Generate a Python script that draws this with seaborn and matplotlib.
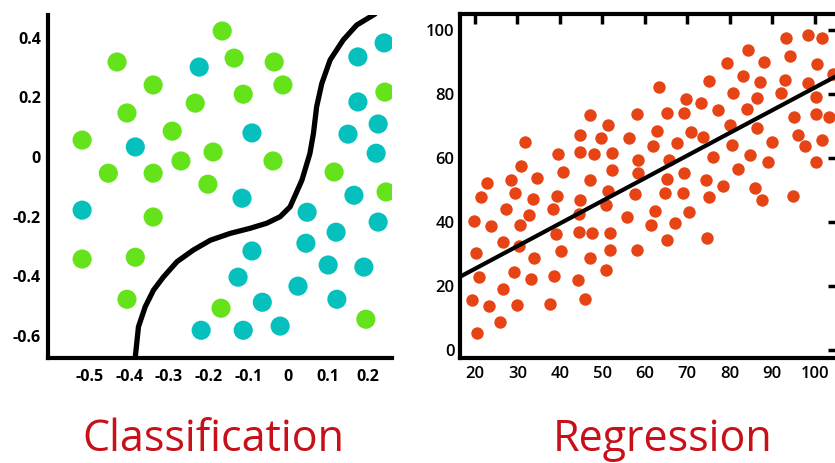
import numpy as np
import pandas as pd
import matplotlib.pyplot as plt
import seaborn as sns

# Classification points (x, y, class)
green_x = [-0.166, -0.431, -0.136, -0.035, -0.340, -0.013, -0.113, -0.234, -0.406, -0.292,
           -0.519, -0.189, -0.270, -0.038, -0.453, -0.340, -0.202, 0.116, 0.244, 0.247,
           -0.340, -0.519, -0.385, -0.406, -0.169, 0.196]
green_y = [0.423, 0.319, 0.332, 0.319, 0.242, 0.242, 0.211, 0.181, 0.148, 0.087,
           0.057, 0.017, -0.013, -0.013, -0.054, -0.054, -0.091, -0.050, 0.218, -0.117,
           -0.201, -0.342, -0.336, -0.477, -0.507, -0.544]
cyan_x = [-0.224, -0.091, -0.385, 0.176, 0.242, 0.176, 0.151, 0.227, 0.222, -0.116, 0.166,
          -0.519, 0.227, 0.048, 0.121, 0.045, -0.091, 0.101, 0.191, -0.126, 0.025,
          -0.065, 0.123, -0.219, -0.113, -0.020]
cyan_y = [0.302, 0.081, 0.034, 0.336, 0.383, 0.185, 0.077, 0.111, 0.013, -0.138, -0.128,
          -0.178, -0.218, -0.185, -0.252, -0.289, -0.315, -0.362, -0.369, -0.403, -0.433,
          -0.487, -0.477, -0.581, -0.581, -0.567]

# decision boundary
boundary_x = [-0.385, -0.377, -0.360, -0.339, -0.314, -0.280, -0.239, -0.196, -0.146, -0.096,
              -0.054, -0.020, 0.005, 0.018, 0.035, 0.055, 0.064, 0.072, 0.085, 0.106,
              0.139, 0.173, 0.219]
boundary_y = [-0.670, -0.569, -0.502, -0.446, -0.402, -0.351, -0.312, -0.279, -0.256, -0.239,
              -0.222, -0.200, -0.167, -0.128, -0.077, 0.012, 0.080, 0.169, 0.247, 0.326,
              0.393, 0.443, 0.480]

cls_xticks = [-0.5, -0.4, -0.3, -0.2, -0.1, 0, 0.1, 0.2]
cls_xlabels = ["-0.5", "-0.4", "-0.3", "-0.2", "-0.1", "0", "0.1", "0.2"]
cls_yticks = [0.4, 0.2, 0, -0.2, -0.4, -0.6]
cls_ylabels = ["0.4", "0.2", "0", "-0.2", "-0.4", "-0.6"]

# Regression points
reg_x = [22.8, 28.5, 30.8, 31.7, 34.6, 39.6, 40.7, 44.8, 44.8, 47.1, 48.1, 47.0, 49.7, 51.3,
         52.3, 52.3, 56.3, 58.1, 58.4, 58.4, 62.0, 62.8, 63.4, 65.2, 65.6, 65.2, 67.5, 69.2,
         69.7, 69.3, 70.9, 73.2, 73.8, 74.4, 75.0, 76.1, 77.3, 79.3, 80.1, 80.7, 80.6, 81.9,
         83.0, 84.4, 84.1, 84.8, 86.4, 86.4, 87.1, 88.1, 89.9, 89.1, 92.0, 93.0, 93.2, 94.2,
         95.1, 96.1, 97.6, 98.3, 98.3, 100.5, 100.2, 100.2, 100.3, 101.6, 101.8, 103.4, 104.4,
         78.4, 86.0, 21.5, 29.5, 33.6, 19.7, 23.8, 27.2, 30.5, 32.8, 39.3, 38.4, 44.8, 44.4,
         51.4, 50.9, 57.6, 55.9, 62.4, 64.8, 68.9, 75.0, 87.7, 95.0, 70.3, 61.5, 67.1, 65.2,
         74.6, 20.3, 26.6, 30.3, 34.0, 39.1, 40.2, 44.4, 47.6, 47.1, 51.8, 51.8, 58.1, 50.9,
         20.9, 29.1, 33.2, 38.7, 44.3, 26.7, 19.4, 23.3, 30.0, 37.6, 46.0, 26.0, 20.6]
reg_y = [52.2, 53.1, 57.4, 65.0, 53.6, 61.2, 55.5, 67.2, 61.9, 73.2, 61.2, 53.1, 66.0, 70.3,
         61.4, 56.0, 66.3, 73.7, 59.3, 55.2, 63.8, 68.4, 82.0, 74.1, 59.3, 53.4, 64.5, 74.1,
         78.3, 55.2, 68.1, 77.0, 66.6, 53.1, 84.0, 60.3, 74.9, 89.5, 70.2, 80.2, 64.0, 56.4,
         85.6, 93.7, 75.3, 60.9, 78.6, 69.2, 83.8, 89.9, 65.0, 58.8, 80.2, 84.3, 97.5, 91.8,
         72.8, 67.1, 63.5, 98.4, 83.3, 89.3, 78.9, 73.6, 58.5, 97.5, 65.6, 72.8, 86.2,
         51.2, 50.5, 47.7, 49.1, 47.2, 40.3, 38.5, 43.9, 39.0, 42.2, 48.1, 43.9, 46.8, 42.3,
         49.7, 45.3, 48.7, 41.4, 43.4, 49.1, 49.1, 47.7, 46.8, 48.1, 43.0, 39.0, 39.5, 34.3,
         35.0, 30.3, 33.6, 32.4, 28.7, 36.2, 30.7, 36.9, 36.4, 28.7, 36.6, 31.0, 31.0, 24.9,
         22.7, 24.4, 22.2, 23.0, 21.9, 18.9, 15.6, 13.7, 14.0, 14.3, 15.9, 8.7, 5.3]

fit_x = [16.5, 104.8]
fit_y = [22.8, 85.3]

reg_xticks = [20, 30, 40, 50, 60, 70, 80, 90, 100]
reg_yticks = [0, 20, 40, 60, 80, 100]

cls_df = pd.DataFrame({
    "x": green_x + cyan_x,
    "y": green_y + cyan_y,
    "cls": ["a"] * len(green_x) + ["b"] * len(cyan_x),
})
reg_df = pd.DataFrame({"x": reg_x, "y": reg_y})

sns.set_style("white")
plt.rcParams["font.family"] = ["Open Sans", "DejaVu Sans"]

fig = plt.figure(figsize=(8.35, 4.63), dpi=100)
ax1 = fig.add_axes([0.0575, 0.2268, 0.412, 0.741])
ax2 = fig.add_axes([0.551, 0.2268, 0.4527, 0.743])

# Classification panel
sns.scatterplot(data=cls_df, x="x", y="y", hue="cls", palette={"a": "#64e21a", "b": "#05c0bc"},
                s=190, linewidth=0, legend=False, ax=ax1)
sns.lineplot(x=boundary_x, y=boundary_y, sort=False, color="black", lw=3.8, ax=ax1,
             solid_joinstyle="round", solid_capstyle="round")
ax1.set_xlim(-0.605, 0.262)
ax1.set_ylim(-0.674, 0.477)
ax1.set_xticks(cls_xticks)
ax1.set_xticklabels(cls_xlabels)
ax1.set_yticks(cls_yticks)
ax1.set_yticklabels(cls_ylabels)
for s in ["top", "right"]:
    ax1.spines[s].set_visible(False)
for s in ["left", "bottom"]:
    ax1.spines[s].set_linewidth(3)
    ax1.spines[s].set_color("black")
ax1.tick_params(direction="in", length=7, width=2.5, labelsize=11.5, colors="black")
ax1.tick_params(axis="x", pad=8)
ax1.tick_params(axis="y", pad=5)
for lab in ax1.get_xticklabels() + ax1.get_yticklabels():
    lab.set_fontweight("bold")
ax1.set_xlabel("")
ax1.set_ylabel("")

# Regression panel
sns.scatterplot(data=reg_df, x="x", y="y", color="#e64414", s=80, linewidth=0, ax=ax2)
sns.lineplot(x=fit_x, y=fit_y, color="black", lw=3, ax=ax2)
ax2.set_xlim(16.5, 105.5)
ax2.set_ylim(-2.6, 104.9)
ax2.set_xticks(reg_xticks)
ax2.set_yticks(reg_yticks)
for s in ["left", "bottom", "top", "right"]:
    ax2.spines[s].set_linewidth(3)
    ax2.spines[s].set_color("black")
ax2.tick_params(direction="in", length=7, width=2.5, labelsize=12, colors="black",
                top=True, right=True)
ax2.tick_params(axis="x", pad=6)
ax2.tick_params(axis="y", pad=4)
for lab in ax2.get_xticklabels() + ax2.get_yticklabels():
    lab.set_fontweight("semibold")
ax2.set_xlabel("")
ax2.set_ylabel("")

fig.text(0.256, 0.026, "Classification", color="#c8101a", fontsize=31, ha="center", va="baseline")
fig.text(0.794, 0.026, "Regression", color="#c8101a", fontsize=31, ha="center", va="baseline")

fig.savefig("out.png", dpi=100)
